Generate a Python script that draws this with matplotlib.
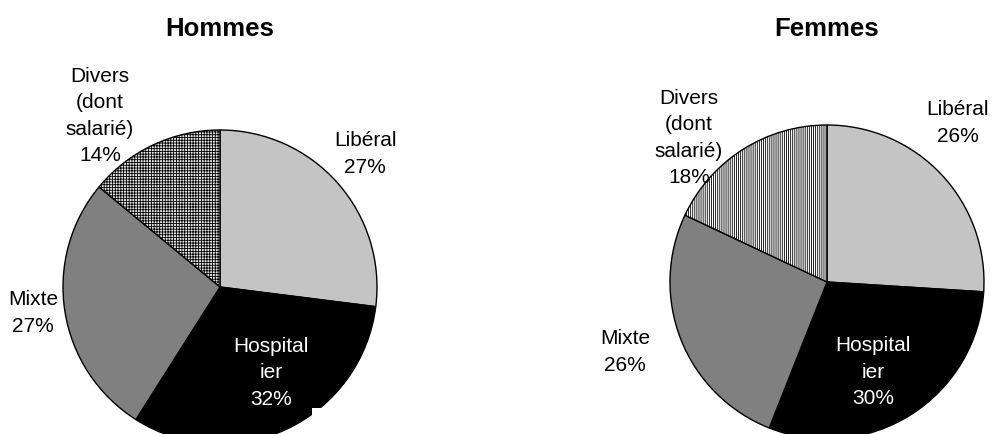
import matplotlib.pyplot as plt
from matplotlib.patches import Rectangle

plt.rcParams['font.family'] = ['Liberation Sans', 'DejaVu Sans']

# data
categories = ['Libéral', 'Hospitalier', 'Mixte', 'Divers (dont salarié)']
hommes = [27, 32, 27, 14]
femmes = [26, 30, 26, 18]

colors = ['#c4c4c4', '#000000', '#808080', '#ffffff']

fig = plt.figure(figsize=(9.92, 4.34), dpi=100)
ax = fig.add_axes([0, 0, 1, 1])


def draw_pie(values, cx, cy, r, divers_hatch, divers_face, hatch_color):
    # hatch colour is read from rcParams when the wedges are created
    plt.rcParams['hatch.color'] = hatch_color
    wedges, _ = ax.pie(values, colors=colors, startangle=90, counterclock=False,
                       center=(cx, cy), radius=r, frame=True,
                       wedgeprops=dict(edgecolor='black', linewidth=1.0))
    wedges[3].set_facecolor(divers_face)
    wedges[3].set_hatch(divers_hatch)
    return wedges


plt.rcParams['hatch.linewidth'] = 0.6
draw_pie(hommes, 220, 147, 157, '++++++', '#e6e6e6', '#777777')
draw_pie(femmes, 827, 152, 157, '||||||||', '#ffffff', '#222222')

ax.set_xlim(0, 992)
ax.set_ylim(0, 434)
ax.set_aspect('equal')
ax.axis('off')

# small white patch at the bottom of the left pie (scan artefact)
ax.add_patch(Rectangle((312, 0), 30, 26, facecolor='white', edgecolor='none', zorder=5))

fs = 15
ls = 1.5
# titles
ax.text(220, 405, 'Hommes', ha='center', va='center', fontsize=18.5, fontweight='bold')
ax.text(827, 405, 'Femmes', ha='center', va='center', fontsize=18.5, fontweight='bold')

# labels, Hommes
ax.text(100, 318, 'Divers\n(dont\nsalarié)\n' + f'{hommes[3]}%', ha='center', va='center',
        fontsize=fs, linespacing=ls)
ax.text(365, 280, 'Libéral\n' + f'{hommes[0]}%', ha='center', va='center', fontsize=fs, linespacing=ls)
ax.text(33, 121, 'Mixte\n' + f'{hommes[2]}%', ha='center', va='center', fontsize=fs, linespacing=ls)
ax.text(271, 61, 'Hospital\nier\n' + f'{hommes[1]}%', ha='center', va='center', fontsize=fs,
        color='white', linespacing=ls)

# labels, Femmes
ax.text(689, 296, 'Divers\n(dont\nsalarié)\n' + f'{femmes[3]}%', ha='center', va='center',
        fontsize=fs, linespacing=ls)
ax.text(958, 311, 'Libéral\n' + f'{femmes[0]}%', ha='center', va='center', fontsize=fs, linespacing=ls)
ax.text(625, 82, 'Mixte\n' + f'{femmes[2]}%', ha='center', va='center', fontsize=fs, linespacing=ls)
ax.text(873, 62, 'Hospital\nier\n' + f'{femmes[1]}%', ha='center', va='center', fontsize=fs,
        color='white', linespacing=ls)

fig.savefig('out.png', dpi=100)
